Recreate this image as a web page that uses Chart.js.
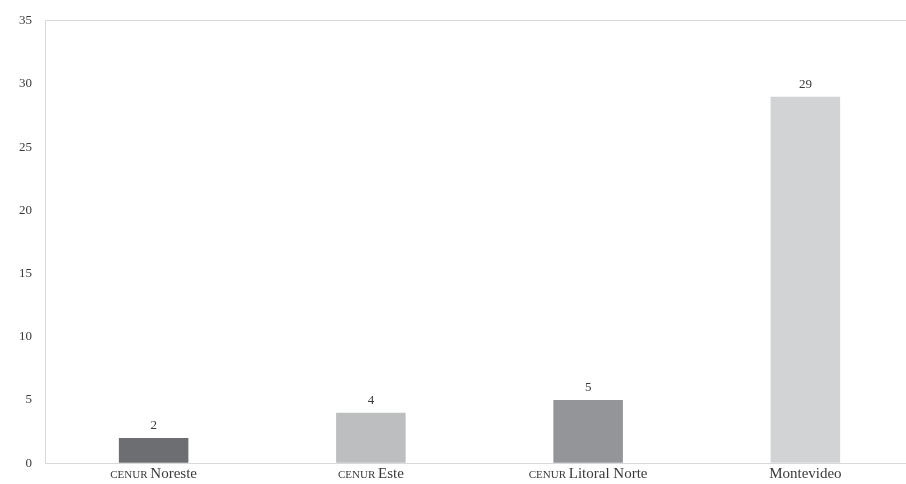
<!DOCTYPE html>
<html>
<head>
<meta charset="utf-8">
<script src="https://cdn.jsdelivr.net/npm/chart.js@4"></script>
<style>
    html, body { margin: 0; padding: 0; background: #fff; overflow: hidden; }
    #wrap { width: 906px; height: 484px; overflow: hidden; }
</style>
</head>
<body>
<div id="wrap"><canvas id="chart" width="914" height="484"></canvas></div>
<script>
// Chart data
const prefixes = ['CENUR', 'CENUR', 'CENUR', ''];
const names = ['Noreste', 'Este', 'Litoral Norte', 'Montevideo'];
const categories = ['cenur Noreste', 'cenur Este', 'cenur Litoral Norte', 'Montevideo'];
const values = [2, 4, 5, 29];
const barColors = ['#6d6e71', '#bcbec0', '#939598', '#d1d3d4'];
const yTicks = [0, 5, 10, 15, 20, 25, 30, 35];

const FONT = "'Liberation Serif', 'DejaVu Serif', serif";
const TEXT = '#3a3a3a';

// Value labels above bars
const valueLabels = {
    id: 'valueLabels',
    afterDatasetsDraw(chart) {
        const ctx = chart.ctx;
        const meta = chart.getDatasetMeta(0);
        ctx.save();
        ctx.font = '13px ' + FONT;
        ctx.fillStyle = TEXT;
        ctx.textAlign = 'center';
        ctx.textBaseline = 'bottom';
        meta.data.forEach((bar, i) => {
            ctx.fillText(String(values[i]), bar.x, bar.y - 6);
        });
        ctx.restore();
    }
};

// Category labels with small-caps prefix
const catLabels = {
    id: 'catLabels',
    afterDraw(chart) {
        const ctx = chart.ctx;
        const xScale = chart.scales.x;
        const y = xScale.top + 11;
        ctx.save();
        ctx.fillStyle = TEXT;
        ctx.textBaseline = 'middle';
        ctx.textAlign = 'left';
        categories.forEach((c, i) => {
            const cx = xScale.getPixelForTick(i);
            const pre = prefixes[i];
            ctx.font = '11px ' + FONT;
            const preW = pre ? ctx.measureText(pre + ' ').width : 0;
            ctx.font = '15px ' + FONT;
            const nameW = ctx.measureText(names[i]).width;
            let x = cx - (preW + nameW) / 2;
            if (pre) {
                ctx.font = '11px ' + FONT;
                ctx.fillText(pre, x, y + 1);
                x += preW;
            }
            ctx.font = '15px ' + FONT;
            ctx.fillText(names[i], x, y);
        });
        ctx.restore();
    }
};

new Chart(document.getElementById('chart'), {
    type: 'bar',
    data: {
        labels: categories,
        datasets: [{
            data: values,
            backgroundColor: barColors,
            borderWidth: 0,
            barPercentage: 0.32,
            categoryPercentage: 1
        }]
    },
    options: {
        responsive: false,
        animation: false,
        layout: { padding: { top: 18, right: 0, left: 0, bottom: 0 } },
        plugins: {
            legend: { display: false },
            tooltip: { enabled: false }
        },
        scales: {
            x: {
                grid: { display: false },
                border: { display: true, color: '#d9d9d9', width: 1 },
                ticks: { display: false },
                afterFit(scale) { scale.height = 20; }
            },
            y: {
                min: 0,
                max: 35,
                afterBuildTicks(scale) {
                    scale.ticks = yTicks.map(v => ({ value: v }));
                },
                grid: {
                    drawTicks: false,
                    color: (c) => (c.tick && c.tick.value === 35) ? '#d9d9d9' : 'rgba(0,0,0,0)'
                },
                border: { display: true, color: '#d9d9d9', width: 1 },
                ticks: {
                    padding: 13,
                    color: TEXT,
                    font: { family: FONT, size: 13 }
                },
                afterFit(scale) { scale.width = 45; }
            }
        }
    },
    plugins: [valueLabels, catLabels]
});
</script>
</body>
</html>
